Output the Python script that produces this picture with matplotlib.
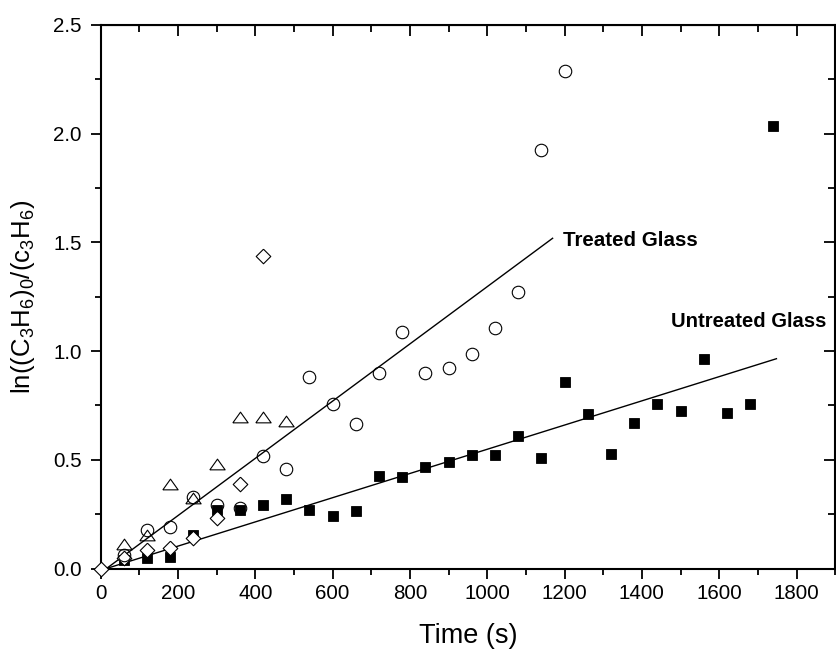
import numpy as np
import matplotlib
matplotlib.use('Agg')
import matplotlib.pyplot as plt
from matplotlib.ticker import MultipleLocator

plt.rcParams['font.family'] = ['Liberation Sans', 'DejaVu Sans']
plt.rcParams['mathtext.fontset'] = 'custom'
plt.rcParams['mathtext.rm'] = 'Liberation Sans'
plt.rcParams['mathtext.it'] = 'Liberation Sans:italic'
plt.rcParams['mathtext.bf'] = 'Liberation Sans:bold'

# untreated glass (filled squares)
t_untreated = [60, 120, 180, 240, 300, 360, 420, 480, 540, 600, 660, 720, 780,
               840, 900, 960, 1020, 1080, 1140, 1200, 1260, 1320, 1380, 1440,
               1500, 1560, 1620, 1680, 1740]
y_untreated = [0.04, 0.047, 0.054, 0.154, 0.27, 0.27, 0.29, 0.32, 0.27, 0.243,
               0.265, 0.427, 0.42, 0.466, 0.49, 0.52, 0.523, 0.61, 0.51, 0.856,
               0.712, 0.525, 0.67, 0.755, 0.724, 0.962, 0.717, 0.757, 2.035]

# treated glass runs (open circles, triangles, diamonds)
t_circle = [60, 120, 180, 240, 300, 360, 420, 480, 540, 600, 660, 720, 780,
            840, 900, 960, 1020, 1080, 1140, 1200]
y_circle = [0.062, 0.177, 0.19, 0.33, 0.292, 0.28, 0.519, 0.459, 0.882, 0.755,
            0.666, 0.9, 1.09, 0.9, 0.921, 0.985, 1.108, 1.272, 1.926, 2.288]

t_triangle = [60, 120, 180, 240, 300, 360, 420, 480]
y_triangle = [0.113, 0.154, 0.387, 0.326, 0.479, 0.698, 0.698, 0.68]

t_diamond = [0, 60, 120, 180, 240, 300, 360, 420]
y_diamond = [0.0, 0.047, 0.085, 0.093, 0.139, 0.23, 0.389, 1.437]

# linear fits (end points)
fit_treated_t = [15, 1169]
fit_treated_y = [0.0, 1.519]
fit_untreated_t = [15, 1748]
fit_untreated_y = [0.0, 0.965]

fig = plt.figure(figsize=(8.36, 6.49), dpi=100)
ax = fig.add_axes([100.7 / 836, 80.5 / 649, 734.5 / 836, 543.5 / 649])

tri = [(-1, -0.7), (1, -0.7), (0, 0.7), (-1, -0.7)]
dia = [(0, 1), (1, 0), (0, -1), (-1, 0), (0, 1)]

ax.plot(fit_treated_t, fit_treated_y, color='black', lw=1.0, zorder=2)
ax.plot(fit_untreated_t, fit_untreated_y, color='black', lw=1.0, zorder=2)

ax.plot(t_untreated, y_untreated, ls='none', marker='s', ms=7.8,
        mfc='black', mec='black', mew=0.6, zorder=3)
ax.plot(t_diamond, y_diamond, ls='none', marker=dia, ms=10.5,
        mfc='white', mec='black', mew=0.8, zorder=4, clip_on=False)
ax.plot(t_circle, y_circle, ls='none', marker='o', ms=9,
        mfc='none', mec='black', mew=0.8, zorder=4)
ax.plot(t_triangle, y_triangle, ls='none', marker=tri, ms=11,
        mfc='none', mec='black', mew=0.8, zorder=4)

ax.text(1197, 1.51, 'Treated Glass', fontsize=14.8, fontweight='bold',
        ha='left', va='center')
ax.text(1475, 1.135, 'Untreated Glass', fontsize=14.6, fontweight='bold',
        ha='left', va='center')

ax.set_xlim(0, 1900)
ax.set_ylim(0, 2.5)
ax.xaxis.set_major_locator(MultipleLocator(200))
ax.xaxis.set_minor_locator(MultipleLocator(100))
ax.yaxis.set_major_locator(MultipleLocator(0.5))
ax.yaxis.set_minor_locator(MultipleLocator(0.25))
ax.yaxis.set_major_formatter(matplotlib.ticker.FormatStrFormatter('%.1f'))

for s in ax.spines.values():
    s.set_linewidth(1.5)

ax.tick_params(which='both', direction='out', width=1.3, labelsize=14.8,
               top=False, right=False)
ax.tick_params(which='major', length=7.5)
ax.tick_params(which='minor', length=4)
ax.tick_params(axis='y', which='major', pad=6)

# top and right axes carry inward ticks only
top = ax.secondary_xaxis('top')
top.xaxis.set_major_locator(MultipleLocator(200))
top.xaxis.set_minor_locator(MultipleLocator(100))
top.tick_params(which='both', direction='in', width=1.3, labeltop=False)
top.tick_params(which='major', length=8)
top.tick_params(which='minor', length=5)

right = ax.secondary_yaxis('right')
right.yaxis.set_major_locator(MultipleLocator(0.5))
right.yaxis.set_minor_locator(MultipleLocator(0.25))
right.tick_params(which='both', direction='in', width=1.3, labelright=False)
right.tick_params(which='major', length=8)
right.tick_params(which='minor', length=5)

ax.set_xlabel('Time (s)', fontsize=19.5)
ax.xaxis.set_label_coords(0.5, -0.1)
ax.set_ylabel(r'ln((C$_3$H$_6$)$_0$/(c$_3$H$_6$)', fontsize=18.5)
ax.yaxis.set_label_coords(-0.087, 0.5)

fig.savefig('out.png', dpi=100)
